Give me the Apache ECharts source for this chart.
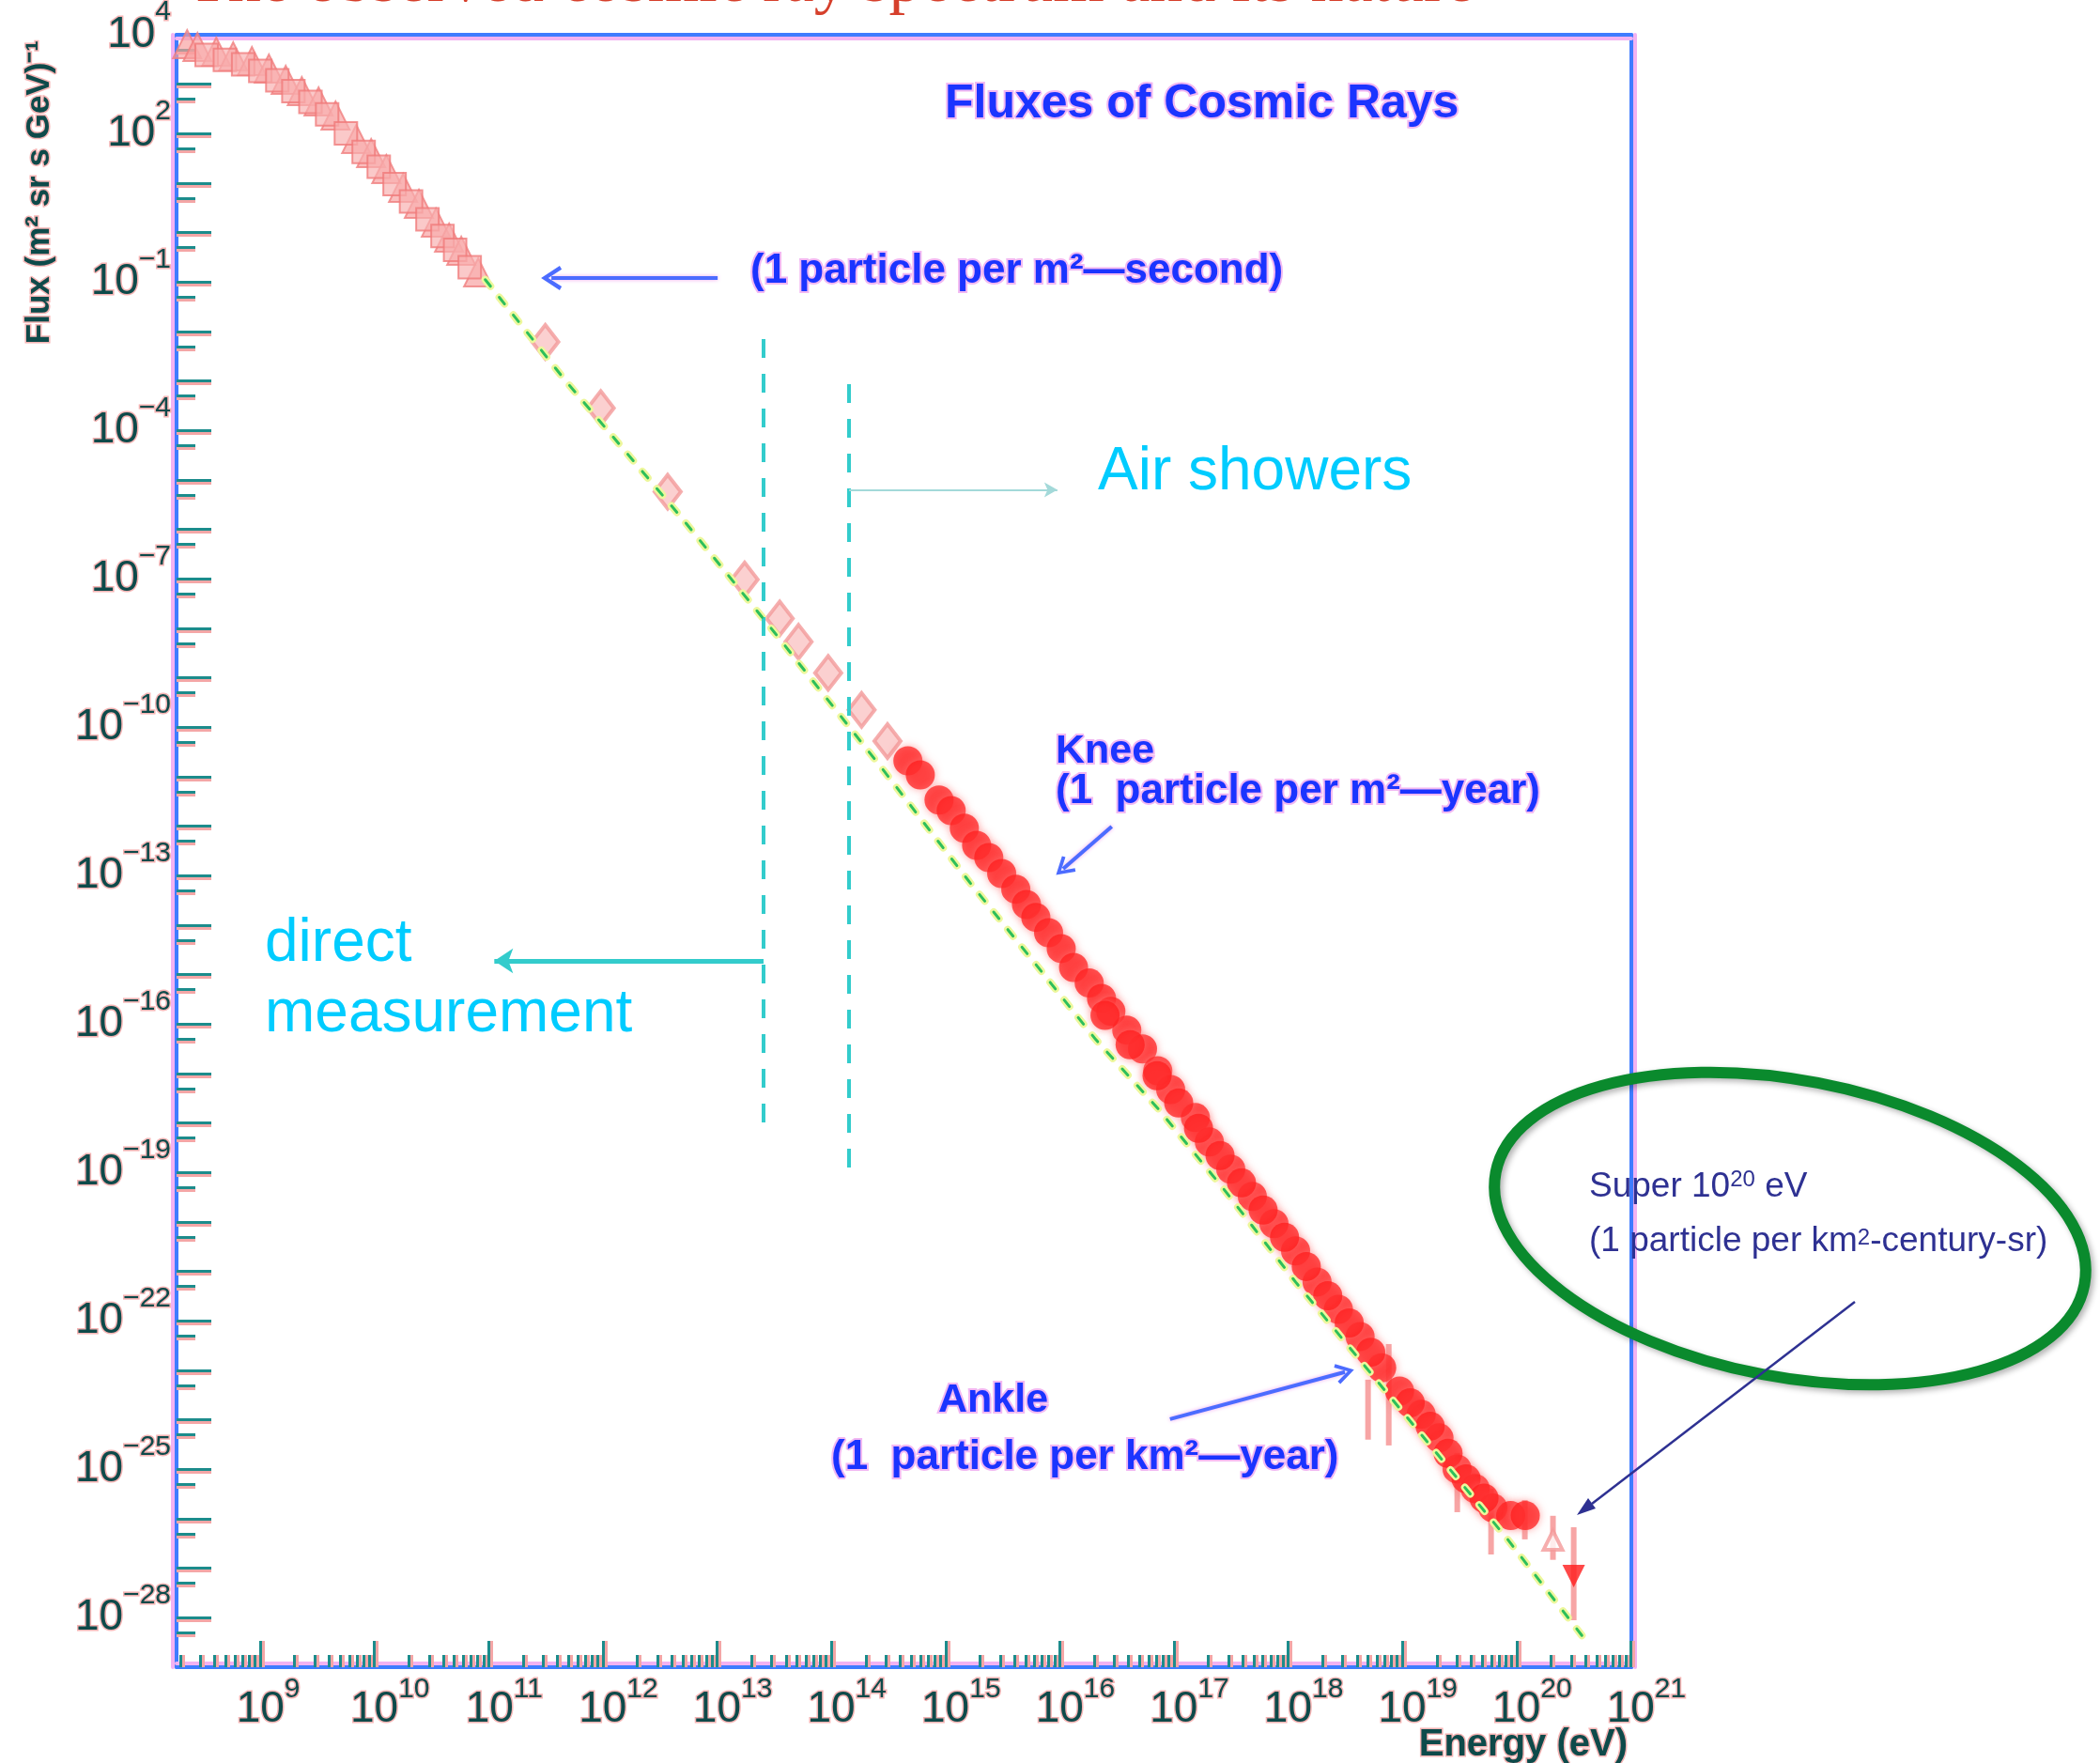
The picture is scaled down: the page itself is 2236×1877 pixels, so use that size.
<!DOCTYPE html>
<html>
<head>
<meta charset="utf-8">
<script src="https://cdn.jsdelivr.net/npm/echarts@6/dist/echarts.min.js"></script>
<style>
html, body { margin: 0; padding: 0; background: #ffffff; }
#chart { width: 2236px; height: 1877px; }
</style>
</head>
<body>
<div id="chart"></div>
<script>
// ---- Axis ranges and tick labels (powers of ten) ----
const energyMin = 1.85e8, energyMax = 1.01e21;
const fluxMin = 1e-29, fluxMax = 1e4;
const energyLabelExponents = [9, 10, 11, 12, 13, 14, 15, 16, 17, 18, 19, 20, 21];
const fluxLabelExponents = [4, 2, -1, -4, -7, -10, -13, -16, -19, -22, -25, -28];

// ---- Direct measurements below 1e11 eV (two overlapping data sets) ----
const lowEnergyE1 = [2.29e8, 2.82e8, 4.12e8, 5.79e8, 8.45e8, 1.19e9, 1.67e9, 2.31e9, 3.24e9, 4.56e9, 6.92e9, 9.35e9, 1.27e10, 1.78e10, 2.45e10, 3.45e10, 4.50e10, 5.75e10, 8.09e10];
const lowEnergyF1 = [6.46e3, 5.66e3, 4.55e3, 3.66e3, 2.94e3, 2.07e3, 1.23e3, 726, 449, 233, 78.2, 40.6, 19.3, 8.04, 3.82, 1.60, 0.792, 0.430, 0.157];
const lowEnergyE2 = [3.39e8, 4.90e8, 7.08e8, 1.0e9, 1.41e9, 1.95e9, 2.75e9, 3.85e9, 5.62e9, 8.04e9, 1.09e10, 1.50e10, 2.09e10, 2.91e10, 3.94e10, 5.08e10, 6.82e10];
const lowEnergyF2 = [3.89e3, 3.09e3, 2.51e3, 1.86e3, 1.20e3, 724, 437, 245, 102, 42.7, 21.4, 9.55, 4.27, 1.86, 0.851, 0.447, 0.20];

// ---- Sparse points between 1e11 and the knee ----
const sparseE = [3.13e11, 9.57e11, 3.69e12, 1.74e13, 3.53e13, 5.16e13, 9.38e13, 1.84e14, 3.10e14];
const sparseF = [6.19e-3, 2.84e-4, 5.77e-6, 9.73e-8, 1.59e-8, 5.36e-9, 1.26e-9, 2.25e-10, 5.28e-11];

// ---- Air shower data from the knee up to the ankle (two overlapping sets) ----
const showerE = [4.68e14, 6.01e14, 8.77e14, 1.12e15, 1.46e15, 1.87e15, 2.39e15, 3.10e15, 4.12e15, 5.11e15, 6.17e15, 7.98e15, 1.03e16, 1.32e16, 1.81e16, 2.32e16, 2.80e16, 3.86e16, 5.30e16, 7.21e16, 9.35e16, 1.54e17, 2.04e17, 3.14e17, 4.85e17, 7.50e17, 1.16e18, 1.79e18, 2.75e18, 4.26e18, 6.58e18, 9.44e18, 1.46e19, 2.09e19, 3.01e19, 4.33e19, 6.19e19, 8.87e19, 1.19e20];
const showerF = [2.11e-11, 1.09e-11, 3.40e-12, 2.07e-12, 9.16e-13, 4.12e-13, 2.33e-13, 1.11e-13, 5.35e-14, 2.62e-14, 1.44e-14, 7.06e-15, 3.37e-15, 1.40e-15, 6.76e-16, 3.31e-16, 1.82e-16, 7.59e-17, 3.16e-17, 1.14e-17, 4.76e-18, 1.29e-18, 4.16e-19, 1.17e-19, 3.28e-20, 9.25e-21, 2.60e-21, 6.12e-22, 1.72e-22, 4.85e-23, 1.13e-23, 3.81e-24, 1.29e-24, 4.32e-25, 1.02e-25, 4.11e-26, 1.66e-26, 1.16e-26, 1.16e-26];
const showerE2 = [2.49e16, 4.13e16, 7.11e16, 1.10e17, 1.64e17, 2.53e17, 3.90e17, 6.03e17, 9.29e17, 1.44e18, 2.22e18, 3.42e18, 5.28e18, 1.17e19, 1.75e19, 2.51e19, 3.61e19, 5.18e19];
const showerF2 = [1.50e-16, 3.85e-17, 9.04e-18, 2.54e-18, 7.84e-19, 2.21e-19, 6.18e-20, 1.74e-20, 4.90e-21, 1.26e-21, 3.23e-22, 9.10e-23, 2.33e-23, 2.21e-24, 7.45e-25, 2.10e-25, 6.44e-26, 2.61e-26];

// ---- Error bars on the highest energy points ----
const errE = [5.0e18, 7.59e18, 3.02e19, 5.97e19, 1.18e20, 2.08e20, 3.16e20];
const errLow = [3.98e-25, 3.04e-25, 1.36e-26, 1.9e-27, 3.84e-27, 1.48e-27, 8.9e-29];
const errHigh = [6.49e-24, 3.41e-23, 2.14e-25, 4.06e-26, 2.4e-26, 1.15e-26, 6.76e-27];

// ---- Highest energy points ----
const uheOpenE = [2.08e20], uheOpenF = [3.67e-27];
const uheLimitE = [3.16e20], uheLimitF = [6.98e-28];

// ---- Power-law guide line ----
const fitE = [9.33e10, 4.57e11, 4.99e12, 3.16e13, 2.77e14, 1.64e15, 5.82e15, 2.06e16, 7.21e16, 2.71e17, 1.16e18, 8.30e19, 4.41e20];
const fitF = [0.112, 1.10e-3, 1.62e-6, 8.41e-9, 1.49e-11, 7.18e-14, 1.91e-15, 4.91e-17, 1.99e-18, 4.72e-20, 6.12e-22, 3.89e-27, 2.64e-29];

// ---- Annotation anchors (data coordinates) ----
const directLimitE = 2.55e13, directTop = 7.05e-3, directBottom = 7.28e-19;
const showerLimitE = 1.43e14, showerTop = 8.65e-4, showerBottom = 9.3e-20;
const directArrow = { y: 1.9e-15, toE: 1.12e11 };
const showerArrow = { y: 6.3e-6, toE: 9.53e15 };
const secondArrow = { fromE: 1.01e13, toE: 3.54e11, y: 0.121 };
const kneeArrow = { from: [2.85e16, 9.89e-13], to: [1.07e16, 1.38e-13] };
const ankleArrow = { from: [9.23e16, 1.035e-24], to: [3.14e18, 9.25e-24] };

// ---- Tick positions ----
const energyMajor = energyLabelExponents.map(n => Math.pow(10, n));
const energyMinor = [];
for (let n = 8; n <= 20; n++) {
  for (let k = 2; k <= 9; k++) {
    const v = k * Math.pow(10, n);
    if (v > energyMin && v < energyMax) energyMinor.push(v);
  }
}
const fluxMajor = [];
for (let n = -28; n <= 3; n++) fluxMajor.push(Math.pow(10, n));
const fluxMinor = [];
for (let n = -29; n <= 3; n++) fluxMinor.push(5 * Math.pow(10, n));
const fluxLabels = fluxLabelExponents.map(n => Math.pow(10, n));

const zip = (xs, ys) => xs.map((x, i) => [x, ys[i]]);

const SANS = "'Liberation Sans', Arial, Helvetica, sans-serif";
const AXIS_BLUE = '#3f7cff';
const HALO_PINK = '#f2b2f2';
const TICK_TEAL = '#1c8c8c';
const LABEL_DARK = '#0e4a4a';
const LABEL_HALO = '#f5b4b4';

const labelRich = (raise) => ({
  b: { fontSize: 46, lineHeight: 46, fontFamily: SANS, color: LABEL_DARK, textBorderColor: LABEL_HALO, textBorderWidth: 3 },
  e: { fontSize: 30, fontFamily: SANS, color: LABEL_DARK, textBorderColor: LABEL_HALO, textBorderWidth: 3, padding: [0, 0, raise, 0] },
  p1: { width: 17, fontSize: 30 },
  p2: { width: 33, fontSize: 30 }
});

const expText = n => (n < 0 ? '\u2212' + (-n) : String(n));

const baseLog = (extra) => Object.assign({
  type: 'log', logBase: 10,
  splitLine: { show: false },
  minorTick: { show: false },
  axisLine: { show: false, onZero: false },
  axisTick: { show: false },
  axisLabel: { show: false }
}, extra);

const xAxes = [
  baseLog({
    position: 'bottom', min: energyMin, max: energyMax,
    name: 'Energy (eV)', nameLocation: 'end', nameGap: -4, nameMoveOverlap: false,
    nameTextStyle: { align: 'right', verticalAlign: 'top', padding: [63, 0, 0, 0], fontSize: 40, fontWeight: 'bold', fontFamily: SANS, color: LABEL_DARK, textBorderColor: LABEL_HALO, textBorderWidth: 3 },
    axisLine: { show: true, onZero: false, lineStyle: { color: AXIS_BLUE, width: 4, shadowColor: HALO_PINK, shadowOffsetY: -4 } },
    axisTick: { show: true, inside: true, length: 28, customValues: energyMajor, lineStyle: { color: TICK_TEAL, width: 3, shadowColor: '#f4a6a6', shadowOffsetX: 3 } },
    axisLabel: {
      show: true, customValues: energyMajor, margin: 9,
      formatter: v => { const n = String(Math.round(Math.log10(v))); return '{p' + n.length + '| }{b|10}{e|' + n + '}'; },
      rich: labelRich(42)
    }
  }),
  baseLog({
    position: 'bottom', min: energyMin, max: energyMax,
    axisTick: { show: true, inside: true, length: 13, customValues: energyMinor, lineStyle: { color: TICK_TEAL, width: 3, shadowColor: '#f4a6a6', shadowOffsetX: 3 } }
  }),
  baseLog({
    position: 'top', min: energyMin, max: energyMax,
    axisLine: { show: true, onZero: false, lineStyle: { color: AXIS_BLUE, width: 4, shadowColor: HALO_PINK, shadowOffsetY: 4 } }
  })
];

const yAxes = [
  baseLog({
    position: 'left', min: fluxMin, max: fluxMax,
    name: 'Flux (m\u00b2 sr s GeV)\u207b\u00b9', nameLocation: 'end', nameRotate: 90, nameGap: -6, nameMoveOverlap: false,
    nameTextStyle: { align: 'right', verticalAlign: 'bottom', padding: [0, 0, 128, 0], fontSize: 35, fontWeight: 'bold', fontFamily: SANS, color: LABEL_DARK, textBorderColor: LABEL_HALO, textBorderWidth: 3 },
    axisLine: { show: true, onZero: false, lineStyle: { color: AXIS_BLUE, width: 4, shadowColor: HALO_PINK, shadowOffsetX: -4 } },
    axisTick: { show: true, inside: true, length: 37, customValues: fluxMajor, lineStyle: { color: TICK_TEAL, width: 3, shadowColor: '#f4a6a6', shadowOffsetY: 3 } },
    axisLabel: {
      show: true, customValues: fluxLabels, margin: 6,
      formatter: v => '{b|10}{e|' + expText(Math.round(Math.log10(v))) + '}',
      rich: labelRich(48)
    }
  }),
  baseLog({
    position: 'left', min: fluxMin, max: fluxMax,
    axisTick: { show: true, inside: true, length: 20, customValues: fluxMinor, lineStyle: { color: TICK_TEAL, width: 3, shadowColor: '#f4a6a6', shadowOffsetY: 3 } }
  }),
  baseLog({
    position: 'right', min: fluxMin, max: fluxMax,
    axisLine: { show: true, onZero: false, lineStyle: { color: AXIS_BLUE, width: 4, shadowColor: HALO_PINK, shadowOffsetX: 4 } }
  })
];

const chevron = 'path://M10,0L20,18L17,20L10,7L3,20L0,18Z';
const blueArrowStyle = { color: '#4c6cff', width: 4, type: 'solid', shadowColor: '#f0a8f0', shadowBlur: 4 };
const dashStyle = { color: '#33cccc', width: 4, type: [20, 17] };

const markLines = [
  [{ coord: [directLimitE, directTop], lineStyle: dashStyle }, { coord: [directLimitE, directBottom] }],
  [{ coord: [showerLimitE, showerTop], lineStyle: dashStyle }, { coord: [showerLimitE, showerBottom] }],
  [{ coord: [directLimitE, directArrow.y], lineStyle: { color: '#33cccc', width: 5, type: 'solid' } },
   { coord: [directArrow.toE, directArrow.y], symbol: 'arrow', symbolSize: [20, 20] }],
  [{ coord: [showerLimitE, showerArrow.y], lineStyle: { color: '#a3d9d9', width: 2, type: 'solid' } },
   { coord: [showerArrow.toE, showerArrow.y], symbol: 'arrow', symbolSize: [12, 14] }],
  [{ coord: [secondArrow.fromE, secondArrow.y], lineStyle: blueArrowStyle },
   { coord: [secondArrow.toE, secondArrow.y], symbol: chevron, symbolSize: [26, 22] }],
  [{ coord: kneeArrow.from, lineStyle: blueArrowStyle },
   { coord: kneeArrow.to, symbol: chevron, symbolSize: [22, 20] }],
  [{ coord: ankleArrow.from, lineStyle: blueArrowStyle },
   { coord: ankleArrow.to, symbol: chevron, symbolSize: [22, 20] }]
];

const blueText = (x, y, text, size) => ({
  type: 'text', x: x, y: y, z: 50, silent: true,
  style: { text: text, fill: '#1b34ff', stroke: '#f2b8f2', lineWidth: 4, font: 'bold ' + size + 'px ' + SANS, textAlign: 'left', textVerticalAlign: 'middle' }
});
const cyanText = (x, y, text) => ({
  type: 'text', x: x, y: y, z: 50, silent: true,
  style: { text: text, fill: '#00ccff', font: '64px ' + SANS, textAlign: 'left', textVerticalAlign: 'middle' }
});
const NAVY = '#2e3192';

const showerStyle = { color: 'rgba(255,26,26,0.9)', shadowBlur: 8, shadowColor: 'rgba(255,120,120,0.9)' };

const option = {
  animation: false,
  backgroundColor: '#ffffff',
  title: {
    text: 'The observed cosmic ray spectrum and its nature',
    left: 200, top: -52, padding: 0,
    textStyle: { fontFamily: "'Liberation Serif', 'Times New Roman', serif", fontSize: 70, fontWeight: 'normal', color: '#d6402c' }
  },
  grid: { left: 188, right: 499, top: 37, bottom: 102, containLabel: false, outerBoundsMode: 'none', show: false },
  xAxis: xAxes,
  yAxis: yAxes,
  series: [
    {
      name: 'low energy A', type: 'scatter', data: zip(lowEnergyE1, lowEnergyF1),
      symbol: 'triangle', symbolSize: 30, z: 2,
      itemStyle: { color: 'rgba(247,160,160,0.85)', borderColor: '#f08080', borderWidth: 2 }
    },
    {
      name: 'low energy B', type: 'scatter', data: zip(lowEnergyE2, lowEnergyF2),
      symbol: 'rect', symbolSize: 24, z: 2,
      itemStyle: { color: 'rgba(248,176,176,0.85)', borderColor: '#f07a7a', borderWidth: 2 }
    },
    {
      name: 'sparse', type: 'scatter', data: zip(sparseE, sparseF),
      symbol: 'diamond', symbolSize: [28, 36], z: 2,
      itemStyle: { color: '#fac4c4', borderColor: '#f29a9a', borderWidth: 4 }
    },
    {
      name: 'error bars', type: 'custom', z: 2,
      data: errE.map((e, i) => [e, errLow[i], errHigh[i]]),
      encode: { x: 0, y: [1, 2] },
      renderItem: (params, api) => {
        const hi = api.coord([api.value(0), api.value(2)]);
        const lo = api.coord([api.value(0), api.value(1)]);
        return { type: 'line', shape: { x1: hi[0], y1: hi[1], x2: lo[0], y2: lo[1] }, style: { stroke: '#f7a5a5', lineWidth: 6 } };
      }
    },
    {
      name: 'air showers', type: 'scatter', data: zip(showerE, showerF),
      symbol: 'circle', symbolSize: 31, z: 3, itemStyle: showerStyle
    },
    {
      name: 'air showers 2', type: 'scatter', data: zip(showerE2, showerF2),
      symbol: 'circle', symbolSize: 31, z: 3, itemStyle: showerStyle
    },
    {
      name: 'uhe open', type: 'scatter', data: zip(uheOpenE, uheOpenF),
      symbol: 'triangle', symbolSize: 20, z: 3,
      itemStyle: { color: '#ffffff', borderColor: '#f49a9a', borderWidth: 4 }
    },
    {
      name: 'uhe limit', type: 'scatter', data: zip(uheLimitE, uheLimitF),
      symbol: 'triangle', symbolRotate: 180, symbolSize: 24, z: 3,
      itemStyle: { color: '#ff1a1a' }
    },
    {
      name: 'guide halo', type: 'line', data: zip(fitE, fitF), showSymbol: false, z: 4, silent: true, clip: false,
      lineStyle: { color: '#edf79c', width: 8, type: [9, 15], cap: 'round' },
      markLine: { silent: true, animation: false, symbol: ['none', 'none'], label: { show: false }, emphasis: { disabled: true }, data: markLines }
    },
    {
      name: 'guide', type: 'line', data: zip(fitE, fitF), showSymbol: false, z: 5, silent: true,
      lineStyle: { color: '#2dbf5b', width: 3, type: [9, 15], cap: 'round' }
    }
  ],
  graphic: [
    blueText(1006, 111, 'Fluxes of Cosmic Rays', 50),
    blueText(799, 289, '(1 particle per m\u00b2\u2014second)', 44),
    blueText(1124, 800, 'Knee', 43),
    blueText(1124, 843, '(1  particle per m\u00b2\u2014year)', 44),
    blueText(999, 1491, 'Ankle', 43),
    blueText(885, 1552, '(1  particle per km\u00b2\u2014year)', 44),
    cyanText(282, 1005, 'direct'),
    cyanText(282, 1080, 'measurement'),
    cyanText(1169, 503, 'Air showers'),
    {
      type: 'text', x: 1692, y: 1264, z: 60, silent: true,
      style: {
        text: '{a|Super 10}{s|20}{a| eV}', textAlign: 'left', textVerticalAlign: 'middle',
        rich: {
          a: { fontSize: 37, fontFamily: SANS, fill: NAVY },
          s: { fontSize: 24, fontFamily: SANS, fill: NAVY, padding: [0, 0, 16, 0] }
        }
      }
    },
    {
      type: 'text', x: 1692, y: 1322, z: 60, silent: true,
      style: {
        text: '{a|(1 particle per km}{s|2}{a|-century-sr)}', textAlign: 'left', textVerticalAlign: 'middle',
        rich: {
          a: { fontSize: 37, fontFamily: SANS, fill: NAVY },
          s: { fontSize: 24, fontFamily: SANS, fill: NAVY, padding: [0, 0, 8, 0] }
        }
      }
    },
    {
      type: 'ellipse', x: 1906, y: 1308, rotation: -0.1885, z: 55, silent: true,
      shape: { cx: 0, cy: 0, rx: 319, ry: 158 },
      style: { fill: 'none', stroke: '#0a8a2d', lineWidth: 12, shadowBlur: 6, shadowColor: 'rgba(0,0,0,0.3)', shadowOffsetX: 3, shadowOffsetY: 3 }
    },
    {
      type: 'line', z: 60, silent: true,
      shape: { x1: 1975, y1: 1386, x2: 1695, y2: 1601 },
      style: { stroke: NAVY, lineWidth: 2.5 }
    },
    {
      type: 'polygon', z: 60, silent: true,
      shape: { points: [[1679, 1613], [1699, 1606], [1691, 1595]] },
      style: { fill: NAVY }
    }
  ]
};

const chart = echarts.init(document.getElementById('chart'));
chart.setOption(option);
</script>
</body>
</html>
